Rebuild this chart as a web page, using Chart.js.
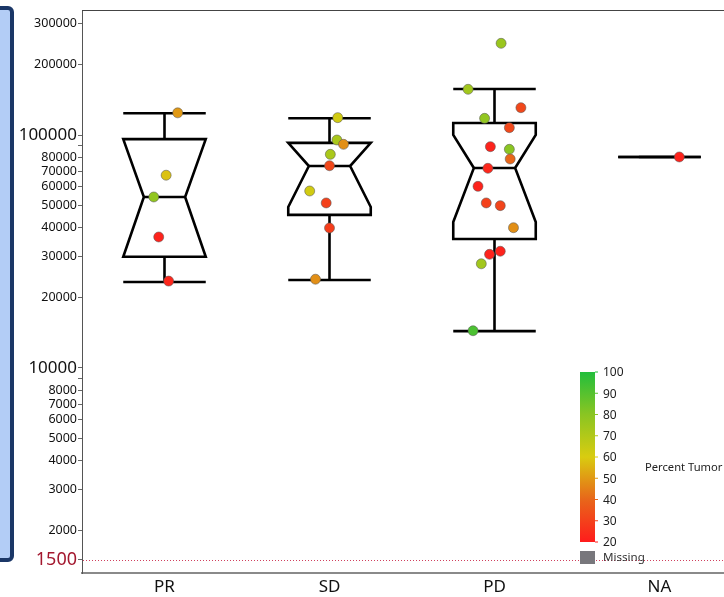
<!DOCTYPE html>
<html>
<head>
<meta charset="utf-8">
<script src="https://cdn.jsdelivr.net/npm/chart.js@4"></script>
<style>
  html, body { margin: 0; padding: 0; background: #fff; overflow: hidden; width: 724px; height: 597px; }
  #wrap { position: relative; width: 724px; height: 597px; overflow: hidden; }
  #panel { position: absolute; left: -10px; top: 6px; width: 16px; height: 548px;
           background: #b3cdf6; border: 4px solid #1b3767; border-radius: 6px; }
  #chart { position: absolute; left: 0; top: 0; }
</style>
</head>
<body>
<div id="wrap">
  <div id="panel"></div>
  <canvas id="chart" width="748" height="597" style="width:748px;height:597px"></canvas>
</div>
<script>
//-----------------------------------------------------------------------------
// Data
const groups = ['PR', 'SD', 'PD', 'NA'];

// box statistics
const whiskerLow  = [23400, 23850, 14400, 80500];
const q1          = [30000, 45400, 35800, 80500];
const notchLow    = [26000, 49100, 42300, 80500];
const median      = [54200, 73600, 72200, 80500];
const notchHigh   = [110000, 105000, 100000, 80500];
const q3          = [96000, 92500, 112600, 80500];
const whiskerHigh = [124000, 118000, 157500, 80500];

// samples per group : value, percent tumor, horizontal jitter
const prValues  = [124500, 67200, 54200, 36500, 23600];
const prPercent = [50, 58, 78, 22, 23];
const prJitter  = [0.08, 0.01, -0.065, -0.035, 0.025];

const sdValues  = [118700, 95200, 91200, 82600, 73800, 57500, 51100, 39900, 24040];
const sdPercent = [62, 72, 48, 72, 32, 62, 30, 29, 48];
const sdJitter  = [0.05, 0.045, 0.085, 0.005, 0, -0.12, -0.02, 0, -0.085];

const pdValues  = [247500, 157100, 131000, 117900, 107500, 89100, 86800, 78900, 71950,
                   60200, 51100, 49750, 40000, 31700, 30750, 28000, 14450];
const pdPercent = [76, 74, 32, 78, 32, 22, 80, 40, 23, 22, 30, 31, 48, 22, 22, 74, 92];
const pdJitter  = [0.04, -0.16, 0.16, -0.06, 0.09, -0.025, 0.09, 0.095, -0.04,
                   -0.1, -0.05, 0.035, 0.115, 0.035, -0.03, -0.08, -0.13];

const naValues  = [80500];
const naPercent = [22];
const naJitter  = [0.12];

// y axis ticks
const yTicks = [1500, 2000, 3000, 4000, 5000, 6000, 7000, 8000, 9000, 10000,
                20000, 30000, 40000, 50000, 60000, 70000, 80000, 90000, 100000, 200000, 300000];
const yUnlabelled = [9000, 90000];
const yBig = [10000, 100000];
const threshold = 1500;

// colour scale
const colorStops  = [20, 40, 60, 80, 100];
const colorHex    = ['#ff1c1c', '#e8661a', '#d9cc10', '#8ac522', '#22be3c'];
const colorTicks  = [20, 30, 40, 50, 60, 70, 80, 90, 100];

const FONT = "'Noto Sans', 'Open Sans', sans-serif";

//-----------------------------------------------------------------------------
// Helpers
function hexToRgb(h) {
  return [parseInt(h.substr(1, 2), 16), parseInt(h.substr(3, 2), 16), parseInt(h.substr(5, 2), 16)];
}

function percentColor(p) {
  let i = 0;
  while (i < colorStops.length - 2 && p > colorStops[i + 1]) i++;
  const t = Math.max(0, Math.min(1, (p - colorStops[i]) / (colorStops[i + 1] - colorStops[i])));
  const a = hexToRgb(colorHex[i]), b = hexToRgb(colorHex[i + 1]);
  const c = a.map((v, k) => Math.round(v + (b[k] - v) * t));
  return `rgb(${c[0]},${c[1]},${c[2]})`;
}

function makePoints(idx, values, jitter) {
  return values.map((v, i) => ({ x: idx + jitter[i], y: v }));
}

//-----------------------------------------------------------------------------
// Box plot plugin (drawn under the points)
const boxPlugin = {
  id: 'notchedBox',
  beforeDatasetsDraw(chart) {
    const { ctx, scales: { x, y } } = chart;
    ctx.save();
    ctx.strokeStyle = '#000';
    ctx.lineWidth = 2.6;
    ctx.lineJoin = 'miter';
    groups.forEach(function(g, i) {
      const xl = x.getPixelForValue(i - 0.25), xr = x.getPixelForValue(i + 0.25);
      const nl = x.getPixelForValue(i - 0.125), nr = x.getPixelForValue(i + 0.125);
      const xc = x.getPixelForValue(i);
      const yq1 = y.getPixelForValue(q1[i]), yq3 = y.getPixelForValue(q3[i]);
      const ym = y.getPixelForValue(median[i]);
      const ynh = y.getPixelForValue(Math.min(notchHigh[i], q3[i]));
      const ynl = y.getPixelForValue(Math.max(notchLow[i], q1[i]));
      const ywl = y.getPixelForValue(whiskerLow[i]), ywh = y.getPixelForValue(whiskerHigh[i]);
      // whiskers
      ctx.beginPath();
      ctx.moveTo(xc, ywh); ctx.lineTo(xc, yq3);
      ctx.moveTo(xc, yq1); ctx.lineTo(xc, ywl);
      ctx.moveTo(xl, ywh); ctx.lineTo(xr, ywh);
      ctx.moveTo(xl, ywl); ctx.lineTo(xr, ywl);
      ctx.stroke();
      // notched box
      ctx.beginPath();
      ctx.moveTo(xl, yq3);
      ctx.lineTo(xr, yq3);
      ctx.lineTo(xr, ynh);
      ctx.lineTo(nr, ym);
      ctx.lineTo(xr, ynl);
      ctx.lineTo(xr, yq1);
      ctx.lineTo(xl, yq1);
      ctx.lineTo(xl, ynl);
      ctx.lineTo(nl, ym);
      ctx.lineTo(xl, ynh);
      ctx.closePath();
      ctx.stroke();
      // median
      ctx.beginPath();
      ctx.moveTo(nl, ym); ctx.lineTo(nr, ym);
      ctx.stroke();
    });
    ctx.restore();
  },
  afterDraw(chart) {
    const { ctx, scales: { y }, chartArea } = chart;
    ctx.save();
    // top frame line
    ctx.strokeStyle = '#444';
    ctx.lineWidth = 1;
    ctx.beginPath();
    ctx.moveTo(chartArea.left, chartArea.top + 0.5);
    ctx.lineTo(chartArea.right, chartArea.top + 0.5);
    ctx.stroke();
    // threshold line
    const yt = Math.round(y.getPixelForValue(threshold)) + 0.5;
    ctx.strokeStyle = '#d0405e';
    ctx.setLineDash([1, 2]);
    ctx.beginPath();
    ctx.moveTo(chartArea.left + 1, yt);
    ctx.lineTo(chartArea.right, yt);
    ctx.stroke();
    ctx.setLineDash([]);
    // colour bar legend
    const bx = 580, bw = 15, by = 372, bh = 170;
    const grad = ctx.createLinearGradient(0, by + bh, 0, by);
    const lo = colorStops[0], hi = colorStops[colorStops.length - 1];
    colorStops.forEach(function(s, k) { grad.addColorStop((s - lo) / (hi - lo), colorHex[k]); });
    ctx.fillStyle = grad;
    ctx.fillRect(bx, by, bw, bh);
    ctx.font = `12px ${FONT}`;
    ctx.textBaseline = 'middle';
    ctx.textAlign = 'left';
    colorTicks.forEach(function(t) {
      const ty = by + bh - (t - lo) / (hi - lo) * bh;
      ctx.strokeStyle = percentColor(t);
      ctx.beginPath();
      ctx.moveTo(bx + bw, ty); ctx.lineTo(bx + bw + 3, ty);
      ctx.stroke();
      ctx.fillStyle = '#222';
      ctx.fillText(String(t), bx + bw + 8, ty + 1);
    });
    ctx.font = `11.2px ${FONT}`;
    ctx.fillText('Percent Tumor', 645, 468);
    ctx.fillStyle = '#78777c';
    ctx.fillRect(bx, 551, bw, 13);
    ctx.fillStyle = '#333';
    ctx.font = `11.6px ${FONT}`;
    ctx.fillText('Missing', 603, 558);
    ctx.restore();
  }
};

//-----------------------------------------------------------------------------
// Chart
function pointDataset(idx, values, percent, jitter) {
  return {
    data: makePoints(idx, values, jitter),
    pointBackgroundColor: percent.map(percentColor),
    pointBorderColor: 'rgba(90,90,90,0.55)',
    pointBorderWidth: 1,
    pointRadius: 5,
    showLine: false
  };
}

new Chart(document.getElementById('chart'), {
  type: 'scatter',
  data: {
    datasets: [
      pointDataset(0, prValues, prPercent, prJitter),
      pointDataset(1, sdValues, sdPercent, sdJitter),
      pointDataset(2, pdValues, pdPercent, pdJitter),
      pointDataset(3, naValues, naPercent, naJitter)
    ]
  },
  options: {
    responsive: false,
    animation: false,
    layout: { padding: { top: 10, left: 0, right: 0, bottom: 0 } },
    plugins: { legend: { display: false }, tooltip: { enabled: false } },
    scales: {
      x: {
        type: 'linear',
        min: -0.5,
        max: 3.5,
        afterBuildTicks: function(scale) { scale.ticks = groups.map((g, i) => ({ value: i })); },
        afterFit: function(scale) { scale.height = 24; },
        grid: { display: false, drawTicks: false },
        border: { display: true, color: '#8a8a8a', width: 2 },
        ticks: {
          autoSkip: false,
          padding: 4,
          color: '#111',
          font: { family: FONT, size: 17 },
          callback: function(v) { return groups[v]; }
        }
      },
      y: {
        type: 'logarithmic',
        min: 1318,
        max: 344000,
        afterBuildTicks: function(scale) { scale.ticks = yTicks.map(v => ({ value: v })); },
        afterFit: function(scale) { scale.width = 82; },
        grid: { drawOnChartArea: false, drawTicks: true, tickLength: 4, color: '#666' },
        border: { display: true, color: '#555', width: 1 },
        ticks: {
          autoSkip: false,
          padding: 1,
          color: function(c) { return c.tick && c.tick.value === threshold ? '#a3182f' : '#111'; },
          font: function(c) {
            const v = c.tick ? c.tick.value : 0;
            if (v === threshold) return { family: FONT, size: 18 };
            return { family: FONT, size: yBig.includes(v) ? 17 : 12.5 };
          },
          callback: function(v) { return yUnlabelled.includes(v) ? '' : String(v); }
        }
      }
    }
  },
  plugins: [boxPlugin]
});
</script>
</body>
</html>
